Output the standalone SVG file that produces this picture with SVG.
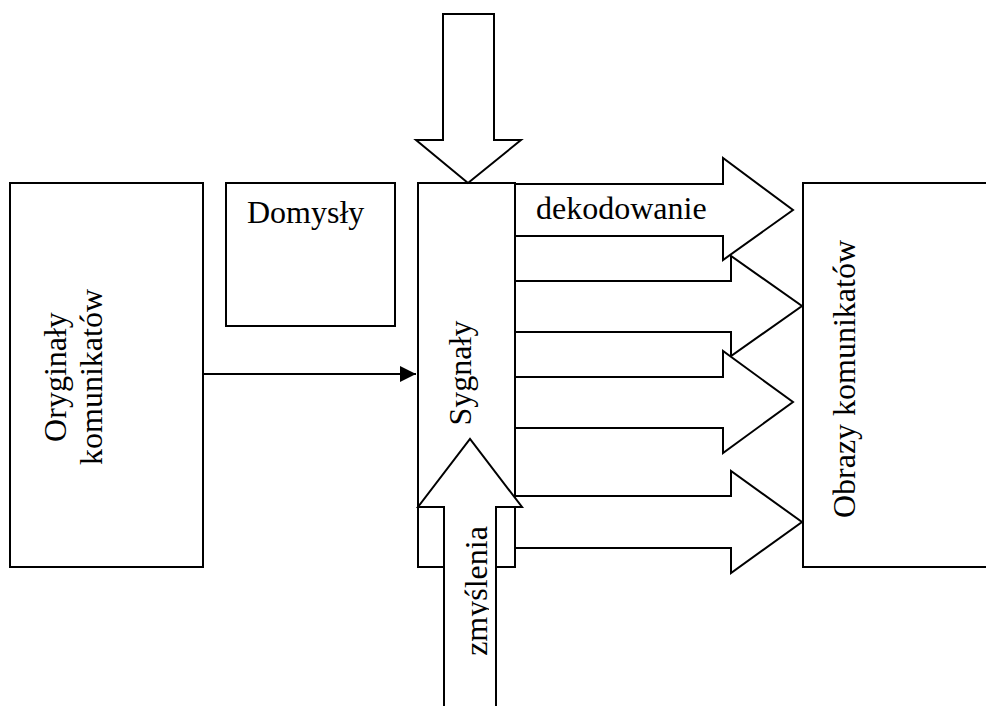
<svg xmlns="http://www.w3.org/2000/svg" width="986" height="706" viewBox="0 0 986 706">
<style>
.box{fill:#fff;stroke:#000;stroke-width:2}
.arr{fill:#fff;stroke:#000;stroke-width:2;stroke-linejoin:miter}
.t{font-family:"Liberation Serif","Times New Roman",serif;font-size:32px;fill:#000}
.m{text-anchor:middle}
.conn{stroke:#000;stroke-width:2;fill:none}
</style>
<defs>
<marker id="ah" markerWidth="8" markerHeight="8" refX="8" refY="4" orient="auto" markerUnits="strokeWidth">
<path d="M0,0 L8,4 L0,8 Z" fill="#000"/>
</marker>
<clipPath id="zclip" clipPathUnits="userSpaceOnUse"><rect x="400" y="500" width="89" height="206"/></clipPath>
</defs>
<rect width="986" height="706" fill="#fff"/>

<g id="oryginaly">
<rect class="box" x="10" y="183" width="193" height="384"/>
<text class="t m" transform="translate(66,377) rotate(-90)">Oryginały</text>
<text class="t m" transform="translate(102,377) rotate(-90)">komunikatów</text>
</g>

<g id="domysly">
<rect class="box" x="226" y="183" width="169" height="143"/>
<text class="t" x="247" y="223">Domysły</text>
</g>

<g id="obrazy">
<rect class="box" x="803" y="183" width="200" height="384"/>
<text class="t m" transform="translate(855,379) rotate(-90)">Obrazy komunikatów</text>
</g>

<g id="sygnaly">
<rect class="box" x="418" y="183" width="97" height="384"/>
<text class="t m" transform="translate(471,373) rotate(-90)">Sygnały</text>
</g>

<g id="connectors">
<line class="conn" x1="203" y1="374" x2="416" y2="374" marker-end="url(#ah)"/>
<g id="wejscie">
<polygon class="arr" points="443,14 494,14 494,140 521,140 468,183 416,140 443,140"/>
</g>
<g id="dekodowanie">
<polygon class="arr" points="515,281 731,281 731,256 802,306 731,356 731,332 515,332"/>
<polygon class="arr" points="515,496 731,496 731,471 802,522 731,573 731,548 515,548"/>
<polygon class="arr" points="515,184 723,184 723,158 793,210 723,260 723,236 515,236"/>
<polygon class="arr" points="515,377 723,377 723,351 793,402 723,453 723,428 515,428"/>
<text class="t" x="536" y="219">dekodowanie</text>
</g>
<g id="zmyslenia">
<polygon class="arr" points="444,720 444,507 418,507 470,439 522,507 496,507 496,720"/>
<g clip-path="url(#zclip)">
<text class="t m" transform="translate(487,591) rotate(-90)">zmyślenia</text>
</g>
</g>
</g>
</svg>
